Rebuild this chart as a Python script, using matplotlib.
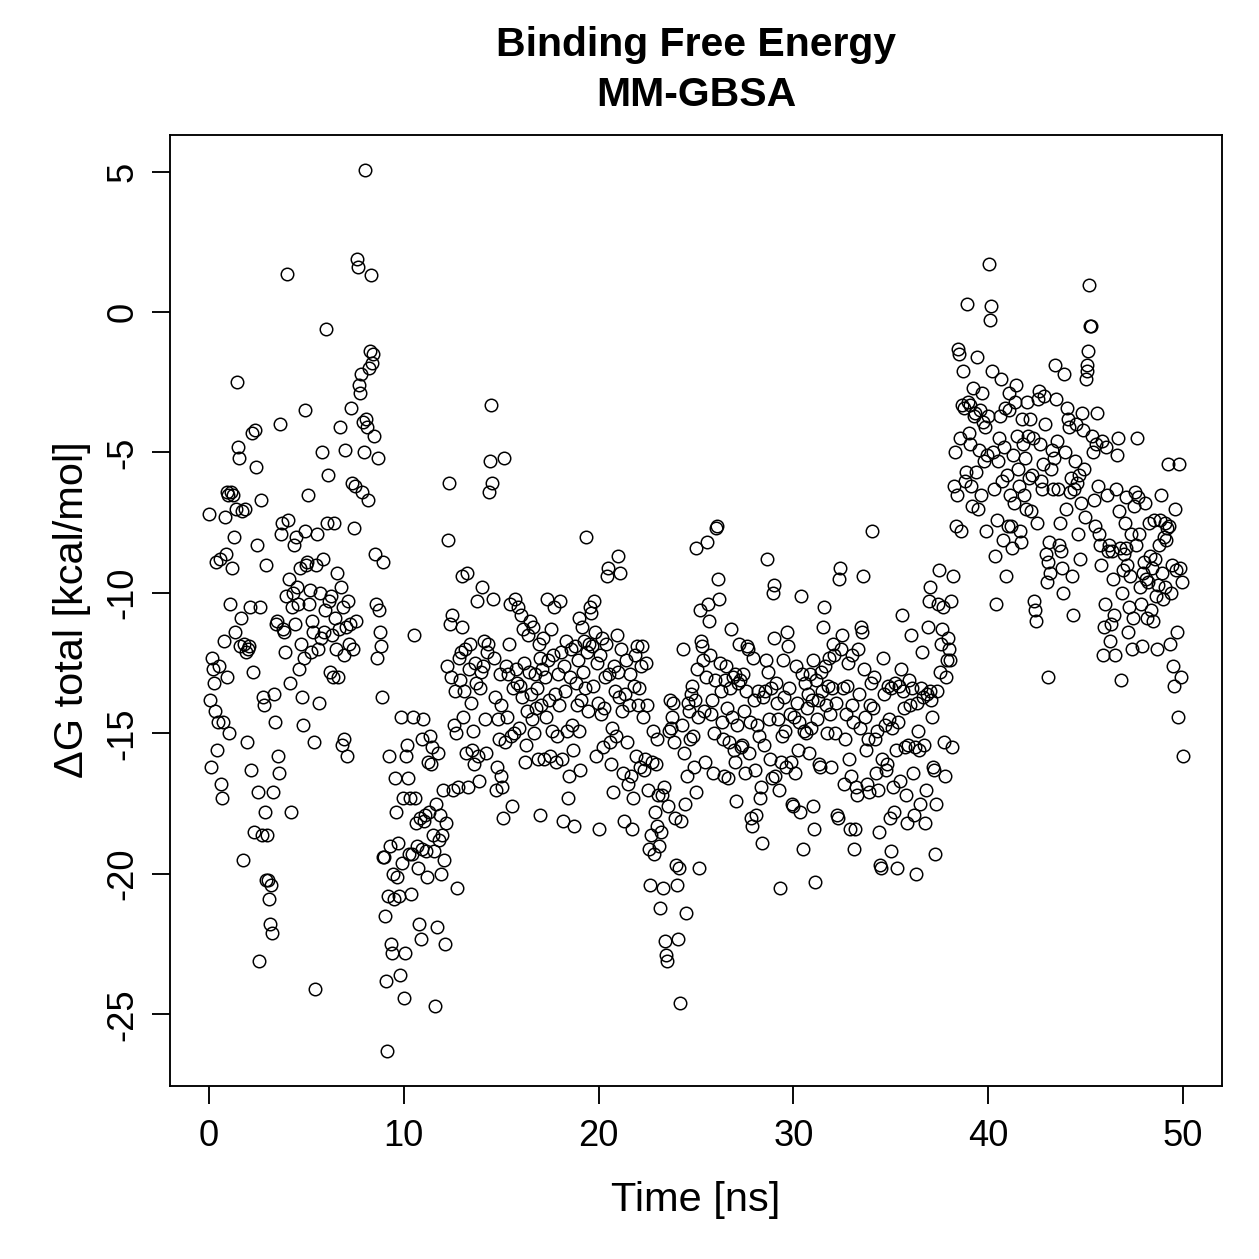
import matplotlib
matplotlib.use("Agg")
import matplotlib.pyplot as plt
import numpy as np

plt.rcParams['font.family'] = ['Liberation Sans', 'DejaVu Sans']
plt.rcParams['axes.unicode_minus'] = False

# delta G total (kcal/mol), one frame every 0.05 ns, 20 frames per row (= 1 ns)
dg_rows = [
    [-7.2, -13.8, -16.2, -12.3, -12.7, -13.2, -14.2, -8.9, -15.6, -14.6, -12.6, -8.8, -16.8, -17.3, -14.6, -11.7, -7.3, -8.6, -13.0, -6.4],
    [-6.5, -15.0, -10.4, -6.4, -9.1, -6.5, -8.0, -11.4, -7.0, -2.5, -4.8, -5.2, -11.9, -10.9, -7.1, -19.5, -11.8, -7.0, -12.1, -15.3],
    [-12.0, -11.9, -10.5, -16.3, -4.3, -12.8, -18.5, -4.2, -5.5, -8.3, -17.1, -23.1, -10.5, -6.7, -18.6, -13.7, -14.0, -17.8, -20.2, -9.0],
    [-18.6, -20.2, -20.9, -21.8, -20.4, -22.1, -17.1, -13.6, -14.6, -11.1, -11.0, -15.8, -16.4, -4.0, -7.9, -7.5, -11.3, -11.4, -12.1, -10.1],
    [1.35, -7.4, -9.5, -13.2, -17.8, -10.5, -10.0, -8.3, -11.1, -8.0, -9.8, -10.4, -12.7, -9.1, -11.8, -13.7, -14.7, -12.3, -7.8, -3.5],
    [-9.0, -8.9, -6.5, -10.4, -9.9, -12.1, -11.0, -11.4, -15.3, -24.1, -9.0, -7.9, -12.0, -13.9, -10.0, -11.6, -5.0, -8.8, -11.4, -10.6],
    [-0.6, -7.5, -5.8, -10.3, -12.8, -10.1, -11.5, -13.0, -7.5, -10.9, -12.0, -9.3, -13.0, -11.3, -4.1, -9.8, -15.4, -10.5, -12.2, -15.2],
    [-4.9, -11.2, -15.8, -10.3, -11.8, -11.1, -3.4, -6.1, -12.0, -7.7, -6.2, -11.0, 1.9, 1.6, -2.6, -2.9, -2.2, -6.4, -3.9, -5.0],
    [5.05, -3.8, -4.1, -6.7, -2.0, -1.4, 1.3, -1.8, -1.5, -4.4, -8.6, -10.4, -12.3, -5.2, -10.6, -11.4, -11.9, -13.7, -8.9, -19.4],
    [-19.4, -21.5, -23.8, -26.3, -20.8, -15.8, -19.0, -22.5, -22.8, -20.0, -20.9, -16.6, -17.8, -20.1, -18.9, -20.8, -23.6, -14.4, -19.6, -17.3],
    [-24.4, -22.8, -15.8, -15.4, -16.6, -19.3, -17.3, -20.7, -19.3, -14.4, -11.5, -17.3, -18.2, -19.0, -19.8, -21.8, -18.0, -22.3, -19.1, -15.2],
    [-14.5, -18.1, -17.9, -19.2, -20.1, -16.0, -17.8, -15.1, -16.1, -15.5, -18.6, -19.2, -24.7, -17.5, -21.9, -15.7, -18.8, -17.9, -20.0, -18.6],
    [-17.0, -19.5, -22.5, -18.2, -12.6, -8.1, -6.1, -11.1, -13.0, -10.8, -17.0, -14.7, -13.5, -15.0, -20.5, -16.9, -12.3, -13.1, -12.1, -9.4],
    [-11.2, -14.4, -13.5, -12.0, -15.7, -9.3, -16.9, -12.7, -11.8, -13.9, -15.6, -14.9, -16.1, -12.5, -13.2, -10.3, -15.8, -16.7, -13.4, -12.8],
    [-9.8, -12.6, -11.7, -14.5, -15.7, -12.1, -11.8, -6.4, -5.3, -3.3, -6.1, -10.2, -12.3, -13.7, -17.0, -16.2, -14.5, -15.2, -12.9, -16.5],
    [-14.0, -16.9, -18.0, -5.2, -15.3, -12.6, -14.4, -12.9, -11.8, -10.4, -15.1, -17.6, -13.4, -15.0, -10.2, -12.7, -13.2, -10.5, -14.8, -13.3],
    [-10.8, -13.7, -11.3, -12.5, -16.0, -15.4, -14.2, -11.5, -12.8, -11.0, -13.6, -14.5, -11.2, -15.0, -12.9, -14.1, -13.4, -15.9, -11.8, -12.3],
    [-17.9, -14.0, -12.7, -11.6, -15.9, -13.0, -14.4, -10.2, -12.4, -13.8, -15.8, -11.3, -14.9, -12.2, -10.5, -13.6, -16.0, -15.1, -12.9, -14.0],
    [-10.3, -12.1, -15.9, -18.1, -12.6, -13.5, -11.7, -14.9, -17.3, -16.5, -13.0, -12.0, -14.7, -15.6, -18.3, -11.9, -13.2, -14.0, -12.4, -10.9],
    [-14.9, -16.3, -13.8, -11.2, -12.8, -11.7, -13.4, -8.0, -12.1, -14.2, -11.8, -10.5, -10.7, -11.9, -13.3, -10.3, -11.4, -15.8, -12.5, -13.9],
    [-18.4, -12.2, -14.3, -11.6, -15.5, -14.1, -13.0, -11.8, -9.4, -9.1, -12.9, -15.3, -16.1, -14.8, -17.1, -12.6, -13.5, -15.1, -11.5, -12.8],
    [-8.7, -13.7, -9.3, -12.0, -14.2, -16.4, -18.1, -13.6, -12.4, -15.3, -16.8, -14.0, -12.9, -16.5, -18.4, -17.3, -13.3, -12.2, -15.8, -11.9],
    [-14.0, -13.4, -16.2, -12.6, -11.9, -14.4, -16.3, -15.9, -12.5, -14.0, -17.0, -19.1, -20.4, -18.6, -16.0, -14.9, -19.3, -17.8, -16.1, -18.3],
    [-15.2, -17.2, -19.0, -21.2, -18.5, -17.2, -20.5, -16.9, -22.4, -22.9, -23.1, -17.6, -14.9, -13.8, -14.8, -14.4, -13.9, -15.3, -18.0, -19.7],
    [-20.4, -22.3, -19.8, -24.6, -18.1, -14.7, -12.0, -15.7, -17.5, -21.4, -16.5, -13.9, -14.2, -15.2, -13.6, -13.3, -15.1, -16.2, -13.8, -17.1],
    [-8.4, -12.7, -14.4, -19.8, -10.6, -11.7, -11.9, -12.4, -14.2, -16.0, -13.0, -8.2, -10.4, -11.0, -12.2, -14.3, -13.8, -16.4, -15.0, -13.1],
    [-7.7, -7.6, -9.5, -10.2, -12.5, -13.5, -14.6, -15.2, -16.5, -13.1, -12.6, -14.1, -16.6, -15.3, -13.4, -11.3, -14.4, -13.0, -15.6, -12.9],
    [-16.0, -17.4, -14.7, -13.2, -11.8, -13.1, -15.5, -15.4, -12.9, -14.2, -16.4, -13.5, -11.9, -12.0, -15.7, -14.6, -18.0, -18.3, -12.3, -13.8],
    [-16.3, -17.9, -14.7, -13.5, -15.1, -17.3, -16.9, -18.9, -13.7, -15.4, -13.5, -12.4, -8.8, -12.8, -14.5, -15.9, -13.4, -16.6, -10.0, -11.6],
    [-9.7, -16.5, -13.2, -13.9, -14.5, -17.0, -20.5, -16.0, -15.1, -12.4, -13.7, -14.9, -16.2, -11.4, -11.9, -13.4, -14.3, -16.0, -17.5, -17.6],
    [-14.4, -16.4, -12.6, -13.9, -15.6, -14.6, -17.8, -10.1, -12.9, -19.1, -14.9, -13.2, -15.0, -14.1, -13.6, -15.7, -12.9, -14.8, -13.8, -12.4],
    [-17.6, -18.4, -20.3, -13.1, -14.5, -13.8, -16.1, -16.2, -12.8, -13.5, -11.2, -10.5, -12.6, -14.0, -15.0, -13.3, -12.3, -14.3, -16.2, -13.4],
    [-11.8, -12.2, -15.0, -13.9, -17.9, -18.0, -9.5, -9.1, -12.0, -11.5, -13.4, -16.8, -15.2, -14.3, -13.3, -12.5, -15.9, -18.4, -16.5, -14.0],
    [-12.2, -14.6, -19.1, -18.4, -16.9, -17.2, -12.0, -13.6, -14.8, -11.2, -11.4, -9.4, -12.7, -14.4, -15.6, -16.8, -15.2, -17.1, -14.0, -13.2],
    [-7.8, -14.1, -13.0, -15.2, -16.4, -14.9, -17.0, -18.5, -19.7, -19.8, -15.9, -12.3, -13.6, -14.7, -16.3, -16.1, -13.3, -14.5, -18.0, -19.2],
    [-13.4, -14.8, -16.9, -17.8, -13.2, -15.6, -19.8, -14.6, -13.3, -16.7, -12.7, -10.8, -13.5, -14.1, -15.5, -17.2, -18.2, -15.4, -13.1, -14.0],
    [-11.5, -13.4, -16.4, -17.9, -15.5, -20.0, -13.9, -14.9, -15.6, -17.5, -13.4, -12.1, -13.7, -15.4, -18.2, -17.0, -13.6, -11.2, -10.3, -13.5],
    [-9.8, -13.8, -14.4, -16.2, -16.3, -19.3, -17.5, -13.5, -10.4, -9.2, -12.8, -11.8, -11.3, -10.5, -15.3, -16.5, -13.0, -12.4, -11.6, -12.0],
    [-12.4, -10.3, -15.5, -9.4, -6.2, -5.0, -7.6, -6.5, -1.3, -1.5, -4.5, -7.8, -3.3, -2.1, -3.4, -6.0, -5.7, 0.3, -3.2, -4.3],
    [-3.3, -4.7, -6.2, -6.9, -2.7, -3.7, -3.6, -5.7, -1.6, -7.0, -4.9, -3.5, -6.5, -2.9, -3.9, -5.3, -4.1, -7.8, -5.1, -3.7],
    [1.7, -0.3, 0.2, -2.1, -5.0, -6.3, -8.7, -10.4, -7.4, -5.3, -4.5, -3.7, -2.4, -6.0, -8.1, -4.8, -3.4, -9.4, -5.8, -7.6],
    [-2.9, -3.5, -6.5, -7.6, -8.4, -5.1, -6.8, -3.2, -2.6, -4.4, -5.6, -6.2, -7.8, -8.2, -3.8, -4.7, -6.5, -5.2, -7.0, -3.2],
    [-4.4, -5.9, -3.8, -7.1, -5.8, -4.5, -10.3, -10.6, -11.0, -7.5, -3.1, -2.8, -4.7, -6.0, -6.3, -5.4, -3.0, -4.0, -8.6, -9.6],
    [-13.0, -8.9, -8.2, -9.3, -5.6, -4.9, -6.3, -5.2, -1.9, -3.1, -4.6, -6.3, -8.3, -7.5, -8.5, -9.1, -10.0, -2.2, -5.0, -7.0],
    [-3.4, -3.8, -4.1, -6.4, -5.9, -9.4, -10.8, -6.3, -5.3, -4.0, -6.1, -7.9, -5.8, -8.8, -6.8, -3.6, -4.2, -5.6, -7.3, -2.4],
    [-1.9, -2.1, -1.4, 0.95, -0.5, -0.5, -4.4, -5.0, -6.7, -7.6, -4.7, -3.6, -6.2, -7.9, -8.3, -9.0, -4.6, -12.2, -11.2, -10.4],
    [-4.8, -6.5, -8.5, -8.3, -11.7, -11.1, -8.5, -9.5, -10.8, -12.2, -6.3, -5.1, -4.5, -7.1, -8.4, -13.1, -10.0, -9.2, -8.6, -7.5],
    [-6.6, -8.4, -9.0, -11.4, -10.5, -9.4, -7.9, -12.0, -10.9, -6.9, -6.4, -8.3, -4.5, -6.6, -7.9, -9.8, -10.4, -11.9, -9.3, -8.9],
    [-6.8, -9.5, -10.9, -9.6, -7.5, -8.7, -10.6, -9.1, -11.0, -7.4, -8.8, -10.1, -12.0, -9.7, -8.3, -7.4, -6.5, -9.3, -10.2, -8.0],
    [-7.5, -9.8, -8.1, -7.7, -5.4, -7.6, -11.8, -10.0, -9.0, -12.6, -13.3, -7.0, -9.2, -11.4, -14.4, -5.4, -9.1, -13.0, -9.6, -15.8],
]
dg = np.concatenate([np.array(r) for r in dg_rows])
time_ns = np.linspace(0, 50, len(dg))

W = 1259
fig = plt.figure(figsize=(W / 180, W / 180), dpi=180)
ax = fig.add_axes([170 / W, 1 - 1086 / W, (1222 - 170) / W, (1086 - 135) / W])

ax.plot(time_ns, dg, linestyle='none', marker='o', markersize=5.0,
        markerfacecolor='none', markeredgecolor='black', markeredgewidth=0.6)

ax.set_xlim(-2, 52)
ax.set_ylim(-27.55, 6.3)
ax.set_xticks([0, 10, 20, 30, 40, 50])
ax.set_yticks([5, 0, -5, -10, -15, -20, -25])
ax.tick_params(axis='both', direction='out', length=7.2, width=0.75, labelsize=14.5)
ax.tick_params(axis='x', pad=6)
ax.tick_params(axis='y', pad=4.5, labelrotation=90)
for lab in ax.get_yticklabels():
    lab.set_va('center')
for s in ax.spines.values():
    s.set_linewidth(0.75)

fig.text(696 / W, 1 - 1200 / W, 'Time [ns]', ha='center', va='center', fontsize=16.6)
fig.text(72 / W, 1 - 610 / W, '\u0394G total [kcal/mol]', ha='center', va='center',
         rotation=90, fontsize=16.6)
fig.text(696 / W, 1 - 45 / W, 'Binding Free Energy', ha='center', va='center',
         fontsize=16.4, fontweight='bold')
fig.text(696 / W, 1 - 95 / W, 'MM-GBSA', ha='center', va='center',
         fontsize=16.4, fontweight='bold')

fig.savefig('out.png', dpi=180, facecolor='white')
